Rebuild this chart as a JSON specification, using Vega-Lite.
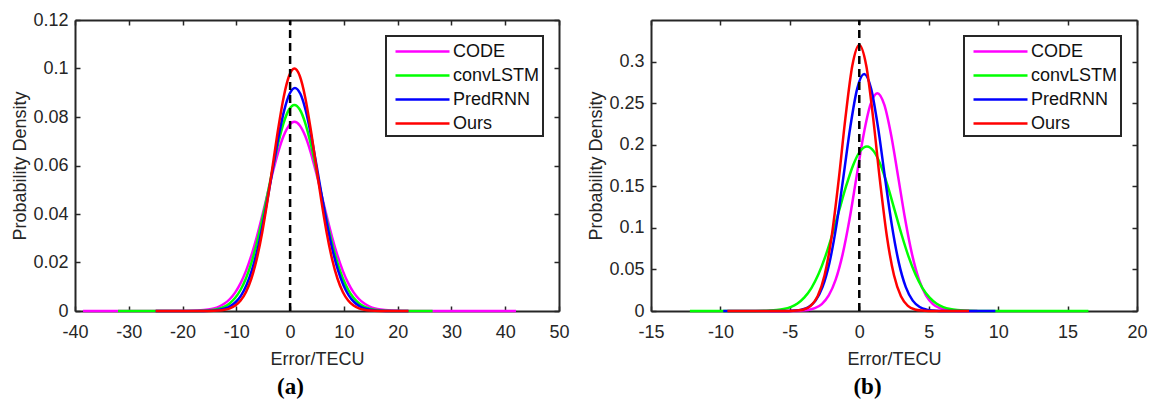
{
  "$schema": "https://vega.github.io/schema/vega-lite/v6.json",
  "background": "white",
  "padding": {"left": 11, "top": 11, "right": 2, "bottom": 2},
  "spacing": 17,
  "config": {
    "font": "Liberation Sans",
    "view": {"stroke": null},
    "axis": {
      "domainColor": "#262626", "domainWidth": 2,
      "tickColor": "#262626", "tickWidth": 1.5, "tickSize": -5,
      "labelFont": "Liberation Sans", "labelFontSize": 18, "labelColor": "#262626",
      "titleFont": "Liberation Sans", "titleFontSize": 18, "titleColor": "#262626", "titleFontWeight": "normal",
      "grid": false, "labelFlush": false, "labelOverlap": false
    },
    "legend": {
      "orient": "top-right", "offset": 16, "padding": 3,
      "strokeColor": "#262626", "strokeWidth": 2, "fillColor": "white",
      "symbolType": "M-0.545,0L4.364,0", "symbolSize": 484, "symbolStrokeWidth": 2.5,
      "labelFont": "Liberation Sans", "labelFontSize": 18, "labelColor": "#111111", "labelOffset": 39,
      "rowPadding": 2, "labelLimit": 300
    }
  },
  "resolve": {"scale": {"color": "independent"}},
  "datasets": {
    "a": [
      {"series": "CODE", "x": -38.5, "y": 0}, {"series": "CODE", "x": -19.2, "y": 0.00004}, {"series": "CODE", "x": -17.2, "y": 0.00016}, {"series": "CODE", "x": -15.2, "y": 0.00058}, {"series": "CODE", "x": -14.2, "y": 0.00105}, {"series": "CODE", "x": -13.2, "y": 0.00183}, {"series": "CODE", "x": -12.2, "y": 0.00307}, {"series": "CODE", "x": -11.2, "y": 0.00495}, {"series": "CODE", "x": -10.2, "y": 0.00769}, {"series": "CODE", "x": -9.2, "y": 0.01149}, {"series": "CODE", "x": -8.2, "y": 0.01654}, {"series": "CODE", "x": -7.2, "y": 0.0229}, {"series": "CODE", "x": -6.2, "y": 0.03052}, {"series": "CODE", "x": -5.2, "y": 0.03915}, {"series": "CODE", "x": -4.2, "y": 0.04833}, {"series": "CODE", "x": -3.2, "y": 0.05742}, {"series": "CODE", "x": -2.2, "y": 0.06565}, {"series": "CODE", "x": -1.2, "y": 0.07225}, {"series": "CODE", "x": -0.2, "y": 0.07652}, {"series": "CODE", "x": 0.8, "y": 0.078}, {"series": "CODE", "x": 1.8, "y": 0.07652}, {"series": "CODE", "x": 2.8, "y": 0.07225}, {"series": "CODE", "x": 3.8, "y": 0.06565}, {"series": "CODE", "x": 4.8, "y": 0.05742}, {"series": "CODE", "x": 5.8, "y": 0.04833}, {"series": "CODE", "x": 6.8, "y": 0.03915}, {"series": "CODE", "x": 7.8, "y": 0.03052}, {"series": "CODE", "x": 8.8, "y": 0.0229}, {"series": "CODE", "x": 9.8, "y": 0.01654}, {"series": "CODE", "x": 10.8, "y": 0.01149}, {"series": "CODE", "x": 11.8, "y": 0.00769}, {"series": "CODE", "x": 12.8, "y": 0.00495}, {"series": "CODE", "x": 13.8, "y": 0.00307}, {"series": "CODE", "x": 14.8, "y": 0.00183}, {"series": "CODE", "x": 15.8, "y": 0.00105}, {"series": "CODE", "x": 16.8, "y": 0.00058}, {"series": "CODE", "x": 18.8, "y": 0.00016}, {"series": "CODE", "x": 20.8, "y": 0.00004}, {"series": "CODE", "x": 42, "y": 0},
      {"series": "convLSTM", "x": -32, "y": 0}, {"series": "convLSTM", "x": -17.2, "y": 0.00005}, {"series": "convLSTM", "x": -15.2, "y": 0.00025}, {"series": "convLSTM", "x": -14.2, "y": 0.00051}, {"series": "convLSTM", "x": -13.2, "y": 0.00099}, {"series": "convLSTM", "x": -12.2, "y": 0.00183}, {"series": "convLSTM", "x": -11.2, "y": 0.00322}, {"series": "convLSTM", "x": -10.2, "y": 0.00543}, {"series": "convLSTM", "x": -9.2, "y": 0.00876}, {"series": "convLSTM", "x": -8.2, "y": 0.01349}, {"series": "convLSTM", "x": -7.2, "y": 0.01985}, {"series": "convLSTM", "x": -6.2, "y": 0.02791}, {"series": "convLSTM", "x": -5.2, "y": 0.0375}, {"series": "convLSTM", "x": -4.2, "y": 0.04815}, {"series": "convLSTM", "x": -3.2, "y": 0.05908}, {"series": "convLSTM", "x": -2.2, "y": 0.06927}, {"series": "convLSTM", "x": -1.2, "y": 0.07761}, {"series": "convLSTM", "x": -0.2, "y": 0.08309}, {"series": "convLSTM", "x": 0.8, "y": 0.085}, {"series": "convLSTM", "x": 1.8, "y": 0.08309}, {"series": "convLSTM", "x": 2.8, "y": 0.07761}, {"series": "convLSTM", "x": 3.8, "y": 0.06927}, {"series": "convLSTM", "x": 4.8, "y": 0.05908}, {"series": "convLSTM", "x": 5.8, "y": 0.04815}, {"series": "convLSTM", "x": 6.8, "y": 0.0375}, {"series": "convLSTM", "x": 7.8, "y": 0.02791}, {"series": "convLSTM", "x": 8.8, "y": 0.01985}, {"series": "convLSTM", "x": 9.8, "y": 0.01349}, {"series": "convLSTM", "x": 10.8, "y": 0.00876}, {"series": "convLSTM", "x": 11.8, "y": 0.00543}, {"series": "convLSTM", "x": 12.8, "y": 0.00322}, {"series": "convLSTM", "x": 13.8, "y": 0.00183}, {"series": "convLSTM", "x": 14.8, "y": 0.00099}, {"series": "convLSTM", "x": 15.8, "y": 0.00051}, {"series": "convLSTM", "x": 16.8, "y": 0.00025}, {"series": "convLSTM", "x": 18.8, "y": 0.00005}, {"series": "convLSTM", "x": 26.5, "y": 0},
      {"series": "PredRNN", "x": -25, "y": 0}, {"series": "PredRNN", "x": -17.1, "y": 0.00002}, {"series": "PredRNN", "x": -15.1, "y": 0.0001}, {"series": "PredRNN", "x": -14.1, "y": 0.00023}, {"series": "PredRNN", "x": -13.1, "y": 0.00051}, {"series": "PredRNN", "x": -12.1, "y": 0.00104}, {"series": "PredRNN", "x": -11.1, "y": 0.00201}, {"series": "PredRNN", "x": -10.1, "y": 0.00371}, {"series": "PredRNN", "x": -9.1, "y": 0.00647}, {"series": "PredRNN", "x": -8.1, "y": 0.01072}, {"series": "PredRNN", "x": -7.1, "y": 0.01683}, {"series": "PredRNN", "x": -6.1, "y": 0.02505}, {"series": "PredRNN", "x": -5.1, "y": 0.03537}, {"series": "PredRNN", "x": -4.1, "y": 0.04738}, {"series": "PredRNN", "x": -3.1, "y": 0.06017}, {"series": "PredRNN", "x": -2.1, "y": 0.07245}, {"series": "PredRNN", "x": -1.1, "y": 0.08273}, {"series": "PredRNN", "x": -0.1, "y": 0.08959}, {"series": "PredRNN", "x": 0.9, "y": 0.092}, {"series": "PredRNN", "x": 1.9, "y": 0.08959}, {"series": "PredRNN", "x": 2.9, "y": 0.08273}, {"series": "PredRNN", "x": 3.9, "y": 0.07245}, {"series": "PredRNN", "x": 4.9, "y": 0.06017}, {"series": "PredRNN", "x": 5.9, "y": 0.04738}, {"series": "PredRNN", "x": 6.9, "y": 0.03537}, {"series": "PredRNN", "x": 7.9, "y": 0.02505}, {"series": "PredRNN", "x": 8.9, "y": 0.01683}, {"series": "PredRNN", "x": 9.9, "y": 0.01072}, {"series": "PredRNN", "x": 10.9, "y": 0.00647}, {"series": "PredRNN", "x": 11.9, "y": 0.00371}, {"series": "PredRNN", "x": 12.9, "y": 0.00201}, {"series": "PredRNN", "x": 13.9, "y": 0.00104}, {"series": "PredRNN", "x": 14.9, "y": 0.00051}, {"series": "PredRNN", "x": 15.9, "y": 0.00023}, {"series": "PredRNN", "x": 16.9, "y": 0.0001}, {"series": "PredRNN", "x": 18.9, "y": 0.00002}, {"series": "PredRNN", "x": 22, "y": 0},
      {"series": "Ours", "x": -25, "y": 0}, {"series": "Ours", "x": -15.2, "y": 0.00003}, {"series": "Ours", "x": -13.2, "y": 0.00021}, {"series": "Ours", "x": -12.2, "y": 0.0005}, {"series": "Ours", "x": -11.2, "y": 0.00109}, {"series": "Ours", "x": -10.2, "y": 0.00224}, {"series": "Ours", "x": -9.2, "y": 0.00433}, {"series": "Ours", "x": -8.2, "y": 0.00786}, {"series": "Ours", "x": -7.2, "y": 0.0134}, {"series": "Ours", "x": -6.2, "y": 0.02146}, {"series": "Ours", "x": -5.2, "y": 0.03228}, {"series": "Ours", "x": -4.2, "y": 0.0456}, {"series": "Ours", "x": -3.2, "y": 0.0605}, {"series": "Ours", "x": -2.2, "y": 0.07537}, {"series": "Ours", "x": -1.2, "y": 0.08819}, {"series": "Ours", "x": -0.2, "y": 0.09691}, {"series": "Ours", "x": 0.8, "y": 0.1}, {"series": "Ours", "x": 1.8, "y": 0.09691}, {"series": "Ours", "x": 2.8, "y": 0.08819}, {"series": "Ours", "x": 3.8, "y": 0.07537}, {"series": "Ours", "x": 4.8, "y": 0.0605}, {"series": "Ours", "x": 5.8, "y": 0.0456}, {"series": "Ours", "x": 6.8, "y": 0.03228}, {"series": "Ours", "x": 7.8, "y": 0.02146}, {"series": "Ours", "x": 8.8, "y": 0.0134}, {"series": "Ours", "x": 9.8, "y": 0.00786}, {"series": "Ours", "x": 10.8, "y": 0.00433}, {"series": "Ours", "x": 11.8, "y": 0.00224}, {"series": "Ours", "x": 12.8, "y": 0.00109}, {"series": "Ours", "x": 13.8, "y": 0.0005}, {"series": "Ours", "x": 14.8, "y": 0.00021}, {"series": "Ours", "x": 16.8, "y": 0.00003}, {"series": "Ours", "x": 22, "y": 0}
    ],
    "b": [
      {"series": "CODE", "x": -6.5, "y": 0}, {"series": "CODE", "x": -4.7, "y": 0.00011}, {"series": "CODE", "x": -4.2, "y": 0.00039}, {"series": "CODE", "x": -3.7, "y": 0.0012}, {"series": "CODE", "x": -3.2, "y": 0.00334}, {"series": "CODE", "x": -2.7, "y": 0.00833}, {"series": "CODE", "x": -2.2, "y": 0.0187}, {"series": "CODE", "x": -1.7, "y": 0.0377}, {"series": "CODE", "x": -1.2, "y": 0.0681}, {"series": "CODE", "x": -0.7, "y": 0.1106}, {"series": "CODE", "x": -0.2, "y": 0.1613}, {"series": "CODE", "x": 0.3, "y": 0.2112}, {"series": "CODE", "x": 0.8, "y": 0.2482}, {"series": "CODE", "x": 1.3, "y": 0.262}, {"series": "CODE", "x": 1.8, "y": 0.2482}, {"series": "CODE", "x": 2.3, "y": 0.2112}, {"series": "CODE", "x": 2.8, "y": 0.1613}, {"series": "CODE", "x": 3.3, "y": 0.1106}, {"series": "CODE", "x": 3.8, "y": 0.0681}, {"series": "CODE", "x": 4.3, "y": 0.0377}, {"series": "CODE", "x": 4.8, "y": 0.0187}, {"series": "CODE", "x": 5.3, "y": 0.00833}, {"series": "CODE", "x": 5.8, "y": 0.00334}, {"series": "CODE", "x": 6.3, "y": 0.0012}, {"series": "CODE", "x": 6.8, "y": 0.00039}, {"series": "CODE", "x": 7.3, "y": 0.00011}, {"series": "CODE", "x": 8.5, "y": 0},
      {"series": "convLSTM", "x": -12.2, "y": 0}, {"series": "convLSTM", "x": -8.45, "y": 0.00001}, {"series": "convLSTM", "x": -7.45, "y": 0.00008}, {"series": "convLSTM", "x": -6.45, "y": 0.00047}, {"series": "convLSTM", "x": -5.95, "y": 0.00109}, {"series": "convLSTM", "x": -5.45, "y": 0.00235}, {"series": "convLSTM", "x": -4.95, "y": 0.00477}, {"series": "convLSTM", "x": -4.45, "y": 0.00911}, {"series": "convLSTM", "x": -3.95, "y": 0.0164}, {"series": "convLSTM", "x": -3.45, "y": 0.0276}, {"series": "convLSTM", "x": -2.95, "y": 0.0438}, {"series": "convLSTM", "x": -2.45, "y": 0.0654}, {"series": "convLSTM", "x": -1.95, "y": 0.0917}, {"series": "convLSTM", "x": -1.45, "y": 0.121}, {"series": "convLSTM", "x": -0.95, "y": 0.1501}, {"series": "convLSTM", "x": -0.45, "y": 0.1751}, {"series": "convLSTM", "x": 0.05, "y": 0.192}, {"series": "convLSTM", "x": 0.55, "y": 0.198}, {"series": "convLSTM", "x": 1.05, "y": 0.192}, {"series": "convLSTM", "x": 1.55, "y": 0.1751}, {"series": "convLSTM", "x": 2.05, "y": 0.1501}, {"series": "convLSTM", "x": 2.55, "y": 0.121}, {"series": "convLSTM", "x": 3.05, "y": 0.0917}, {"series": "convLSTM", "x": 3.55, "y": 0.0654}, {"series": "convLSTM", "x": 4.05, "y": 0.0438}, {"series": "convLSTM", "x": 4.55, "y": 0.0276}, {"series": "convLSTM", "x": 5.05, "y": 0.0164}, {"series": "convLSTM", "x": 5.55, "y": 0.00911}, {"series": "convLSTM", "x": 6.05, "y": 0.00477}, {"series": "convLSTM", "x": 6.55, "y": 0.00235}, {"series": "convLSTM", "x": 7.05, "y": 0.00109}, {"series": "convLSTM", "x": 7.55, "y": 0.00047}, {"series": "convLSTM", "x": 8.55, "y": 0.00008}, {"series": "convLSTM", "x": 9.55, "y": 0.00001}, {"series": "convLSTM", "x": 16.5, "y": 0},
      {"series": "PredRNN", "x": -9.8, "y": 0}, {"series": "PredRNN", "x": -5.65, "y": 0.00003}, {"series": "PredRNN", "x": -5.15, "y": 0.00013}, {"series": "PredRNN", "x": -4.65, "y": 0.00048}, {"series": "PredRNN", "x": -4.15, "y": 0.00163}, {"series": "PredRNN", "x": -3.65, "y": 0.00481}, {"series": "PredRNN", "x": -3.15, "y": 0.0125}, {"series": "PredRNN", "x": -2.65, "y": 0.0287}, {"series": "PredRNN", "x": -2.15, "y": 0.0579}, {"series": "PredRNN", "x": -1.65, "y": 0.1027}, {"series": "PredRNN", "x": -1.15, "y": 0.1605}, {"series": "PredRNN", "x": -0.65, "y": 0.2208}, {"series": "PredRNN", "x": -0.15, "y": 0.2674}, {"series": "PredRNN", "x": 0.35, "y": 0.285}, {"series": "PredRNN", "x": 0.85, "y": 0.2674}, {"series": "PredRNN", "x": 1.35, "y": 0.2208}, {"series": "PredRNN", "x": 1.85, "y": 0.1605}, {"series": "PredRNN", "x": 2.35, "y": 0.1027}, {"series": "PredRNN", "x": 2.85, "y": 0.0579}, {"series": "PredRNN", "x": 3.35, "y": 0.0287}, {"series": "PredRNN", "x": 3.85, "y": 0.0125}, {"series": "PredRNN", "x": 4.35, "y": 0.00481}, {"series": "PredRNN", "x": 4.85, "y": 0.00163}, {"series": "PredRNN", "x": 5.35, "y": 0.00048}, {"series": "PredRNN", "x": 5.85, "y": 0.00013}, {"series": "PredRNN", "x": 6.35, "y": 0.00003}, {"series": "PredRNN", "x": 9.8, "y": 0},
      {"series": "Ours", "x": -9.5, "y": 0}, {"series": "Ours", "x": -6, "y": 0}, {"series": "Ours", "x": -5, "y": 0.0001}, {"series": "Ours", "x": -4.5, "y": 0.00048}, {"series": "Ours", "x": -4, "y": 0.00187}, {"series": "Ours", "x": -3.5, "y": 0.00623}, {"series": "Ours", "x": -3, "y": 0.0177}, {"series": "Ours", "x": -2.5, "y": 0.0429}, {"series": "Ours", "x": -2, "y": 0.0884}, {"series": "Ours", "x": -1.5, "y": 0.1552}, {"series": "Ours", "x": -1, "y": 0.232}, {"series": "Ours", "x": -0.5, "y": 0.2953}, {"series": "Ours", "x": 0, "y": 0.32}, {"series": "Ours", "x": 0.5, "y": 0.2953}, {"series": "Ours", "x": 1, "y": 0.232}, {"series": "Ours", "x": 1.5, "y": 0.1552}, {"series": "Ours", "x": 2, "y": 0.0884}, {"series": "Ours", "x": 2.5, "y": 0.0429}, {"series": "Ours", "x": 3, "y": 0.0177}, {"series": "Ours", "x": 3.5, "y": 0.00623}, {"series": "Ours", "x": 4, "y": 0.00187}, {"series": "Ours", "x": 4.5, "y": 0.00048}, {"series": "Ours", "x": 5, "y": 0.0001}, {"series": "Ours", "x": 6, "y": 0}, {"series": "Ours", "x": 7.9, "y": 0}
    ]
  },
  "hconcat": [
    {
      "width": 484, "height": 291,
      "title": {"text": "(a)", "orient": "bottom", "anchor": "middle", "frame": "bounds", "font": "Liberation Serif", "fontSize": 23, "fontWeight": "bold", "color": "#000000", "offset": 8},
      "resolve": {"axis": {"x": "independent", "y": "independent"}},
      "layer": [
        {
          "data": {"name": "a"},
          "mark": {"type": "line", "strokeWidth": 2.5, "interpolate": "monotone"},
          "encoding": {
            "x": {"field": "x", "type": "quantitative", "scale": {"domain": [-40, 50], "nice": false, "zero": false},
                  "axis": {"orient": "bottom", "values": [-40, -30, -20, -10, 0, 10, 20, 30, 40, 50], "labelExpr": "'' + datum.value", "title": "Error/TECU", "labelPadding": 17, "titlePadding": 9}},
            "y": {"field": "y", "type": "quantitative", "scale": {"domain": [0, 0.12], "nice": false},
                  "axis": {"orient": "left", "values": [0, 0.02, 0.04, 0.06, 0.08, 0.1, 0.12], "labelExpr": "'' + datum.value", "title": "Probability Density", "labelPadding": 12, "titlePadding": 3}},
            "color": {"field": "series", "type": "nominal",
                      "scale": {"domain": ["CODE", "convLSTM", "PredRNN", "Ours"], "range": ["#ff00ff", "#00ff00", "#0000ff", "#ff0000"]},
                      "legend": {"title": null, "symbolType": "M-0.545,0L4.364,0", "symbolSize": 484, "symbolStrokeWidth": 2.5}}
          }
        },
        {
          "data": {"values": [{}]},
          "mark": {"type": "rule", "color": "#000000", "strokeWidth": 2.5, "strokeDash": [8, 5]},
          "encoding": {
            "x": {"datum": 0, "type": "quantitative", "axis": {"orient": "top", "values": [-40, -30, -20, -10, 0, 10, 20, 30, 40, 50], "labels": false, "title": null}},
            "y": {"datum": 0, "type": "quantitative", "axis": {"orient": "right", "values": [0, 0.02, 0.04, 0.06, 0.08, 0.1, 0.12], "labels": false, "title": null}},
            "y2": {"datum": 0.12}
          }
        }
      ]
    },
    {
      "width": 486, "height": 291,
      "title": {"text": "(b)", "orient": "bottom", "anchor": "middle", "frame": "bounds", "font": "Liberation Serif", "fontSize": 23, "fontWeight": "bold", "color": "#000000", "offset": 8},
      "resolve": {"axis": {"x": "independent", "y": "independent"}},
      "layer": [
        {
          "data": {"name": "b"},
          "mark": {"type": "line", "strokeWidth": 2.5, "interpolate": "monotone"},
          "encoding": {
            "x": {"field": "x", "type": "quantitative", "scale": {"domain": [-15, 20], "nice": false, "zero": false},
                  "axis": {"orient": "bottom", "values": [-15, -10, -5, 0, 5, 10, 15, 20], "labelExpr": "'' + datum.value", "title": "Error/TECU", "labelPadding": 17, "titlePadding": 9}},
            "y": {"field": "y", "type": "quantitative", "scale": {"domain": [0, 0.35], "nice": false},
                  "axis": {"orient": "left", "values": [0, 0.05, 0.1, 0.15, 0.2, 0.25, 0.3], "labelExpr": "'' + datum.value", "title": "Probability Density", "labelPadding": 12, "titlePadding": 3}},
            "color": {"field": "series", "type": "nominal",
                      "scale": {"domain": ["CODE", "convLSTM", "PredRNN", "Ours"], "range": ["#ff00ff", "#00ff00", "#0000ff", "#ff0000"]},
                      "legend": {"title": null, "symbolType": "M-0.545,0L4.364,0", "symbolSize": 484, "symbolStrokeWidth": 2.5}}
          }
        },
        {
          "data": {"values": [{}]},
          "mark": {"type": "rule", "color": "#000000", "strokeWidth": 2.5, "strokeDash": [8, 5]},
          "encoding": {
            "x": {"datum": 0, "type": "quantitative", "axis": {"orient": "top", "values": [-15, -10, -5, 0, 5, 10, 15, 20], "labels": false, "title": null}},
            "y": {"datum": 0, "type": "quantitative", "axis": {"orient": "right", "values": [0, 0.05, 0.1, 0.15, 0.2, 0.25, 0.3], "labels": false, "title": null}},
            "y2": {"datum": 0.35}
          }
        }
      ]
    }
  ]
}
